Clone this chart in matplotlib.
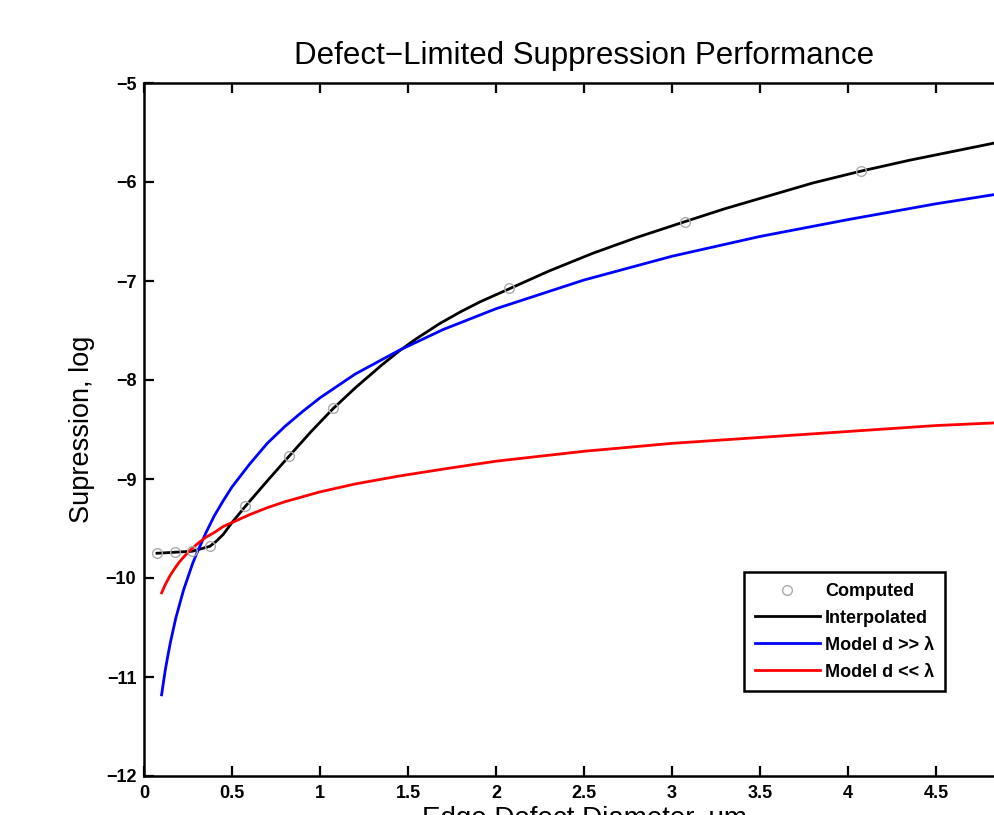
import matplotlib
matplotlib.use("Agg")
import matplotlib.pyplot as plt

# Computed points
comp_x = [0.074, 0.174, 0.274, 0.374, 0.574, 0.824, 1.074, 2.074, 3.074, 4.074]
comp_y = [-9.75, -9.74, -9.73, -9.68, -9.27, -8.77, -8.28, -7.07, -6.40, -5.89]

# Interpolated curve
interp_x = [0.074, 0.174, 0.274, 0.374, 0.41, 0.45, 0.5, 0.574, 0.7, 0.824, 0.95, 1.074, 1.2,
            1.35, 1.455, 1.55, 1.68, 1.8, 1.91, 2.074, 2.3, 2.55, 2.8, 3.074, 3.3, 3.55, 3.8,
            4.074, 4.35, 4.6, 4.85, 5.074]
interp_y = [-9.75, -9.74, -9.73, -9.68, -9.63, -9.56, -9.44, -9.28, -9.02, -8.77, -8.52, -8.29,
            -8.08, -7.85, -7.70, -7.58, -7.43, -7.31, -7.21, -7.08, -6.90, -6.72, -6.56, -6.40,
            -6.27, -6.14, -6.01, -5.89, -5.78, -5.69, -5.60, -5.52]

# Model d >> lambda (blue)
blue_x = [0.1, 0.11, 0.12, 0.135, 0.15, 0.165, 0.18, 0.2, 0.225, 0.25, 0.275, 0.3, 0.35, 0.4,
          0.45, 0.5, 0.6, 0.7, 0.8, 0.9, 1.0, 1.2, 1.45, 1.7, 2.0, 2.5, 3.0, 3.5, 4.0, 4.5, 5.0]
blue_y = [-11.18, -11.06, -10.94, -10.79, -10.65, -10.53, -10.41, -10.28, -10.12, -9.99, -9.86,
          -9.75, -9.55, -9.37, -9.22, -9.08, -8.85, -8.64, -8.47, -8.32, -8.18, -7.94, -7.70,
          -7.49, -7.28, -6.99, -6.75, -6.55, -6.38, -6.22, -6.08]

# Model d << lambda (red)
red_x = [0.1, 0.11, 0.12, 0.135, 0.15, 0.165, 0.18, 0.2, 0.225, 0.25, 0.275, 0.3, 0.35, 0.4,
         0.45, 0.5, 0.6, 0.7, 0.8, 0.9, 1.0, 1.2, 1.45, 1.7, 2.0, 2.5, 3.0, 3.5, 4.0, 4.5, 5.0]
red_y = [-10.15, -10.11, -10.07, -10.02, -9.97, -9.93, -9.89, -9.84, -9.79, -9.74, -9.70,
         -9.66, -9.59, -9.54, -9.48, -9.44, -9.36, -9.29, -9.23, -9.18, -9.13, -9.05, -8.97,
         -8.90, -8.82, -8.72, -8.64, -8.58, -8.52, -8.46, -8.42]

xticks = [0, 0.5, 1, 1.5, 2, 2.5, 3, 3.5, 4, 4.5]
xticklabels = ["0", "0.5", "1", "1.5", "2", "2.5", "3", "3.5", "4", "4.5"]
yticks = [-12, -11, -10, -9, -8, -7, -6, -5]
yticklabels = ["\u221212", "\u221211", "\u221210", "\u22129", "\u22128", "\u22127", "\u22126", "\u22125"]

plt.rcParams['font.family'] = ['Liberation Sans', 'DejaVu Sans']

fig = plt.figure(figsize=(9.95, 8.15), dpi=100)
ax = fig.add_axes([144/995, 39/815, 880/995, 693/815])

ax.plot(comp_x, comp_y, linestyle='none', marker='o', markersize=7, markerfacecolor='none',
        markeredgecolor='#aaaaaa', markeredgewidth=1.0, label='Computed', zorder=3)
ax.plot(interp_x, interp_y, color='black', lw=2.0, label='Interpolated', zorder=2)
ax.plot(blue_x, blue_y, color='#0000ff', lw=2.0, label='Model d >> \u03bb', zorder=2)
ax.plot(red_x, red_y, color='#ff0000', lw=2.0, label='Model d << \u03bb', zorder=2)

ax.set_xlim(0, 5)
ax.set_ylim(-12, -5)
ax.set_xticks(xticks)
ax.set_xticklabels(xticklabels)
ax.set_yticks(yticks)
ax.set_yticklabels(yticklabels)
ax.tick_params(direction='in', length=7, width=1.6, top=True, right=True,
               labelsize=13)
ax.tick_params(axis='x', pad=6.5)
ax.tick_params(axis='y', pad=5.5)
for lab in ax.get_xticklabels() + ax.get_yticklabels():
    lab.set_fontweight('bold')
for s in ax.spines.values():
    s.set_linewidth(1.8)

ax.set_title('Defect\u2212Limited Suppression Performance', fontsize=22.5, pad=14)
ax.set_ylabel('Supression, log', fontsize=19.5, labelpad=8)
ax.set_xlabel('Edge Defect Diameter, um', fontsize=20, labelpad=3)

leg = ax.legend(loc='upper left', bbox_to_anchor=(600/880, (776-572)/693), fontsize=13,
                handlelength=3.6, handletextpad=0.3, labelspacing=0.55,
                borderpad=0.6, borderaxespad=0, fancybox=False, framealpha=1,
                edgecolor='black')
leg.get_frame().set_linewidth(1.8)
for t in leg.get_texts():
    t.set_fontweight('bold')

fig.savefig('out.png', dpi=100)
